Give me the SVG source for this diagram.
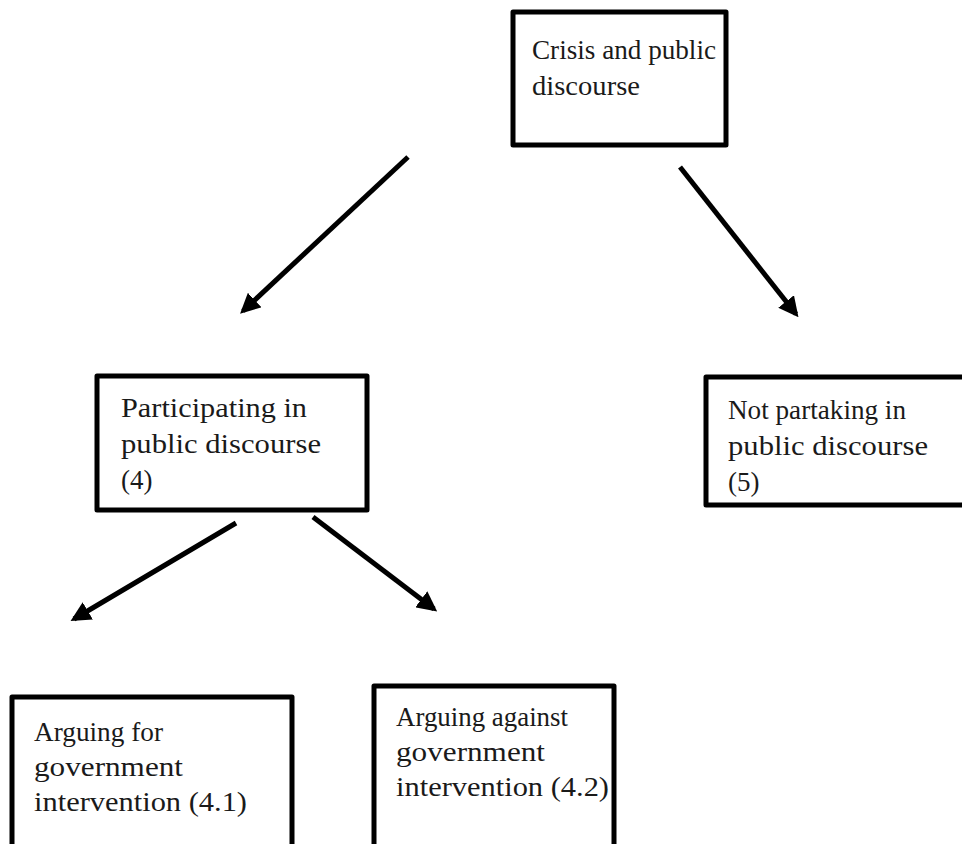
<svg xmlns="http://www.w3.org/2000/svg" width="962" height="844" viewBox="0 0 962 844">
<defs>
<style>
.box{fill:#fff;stroke:#000;stroke-width:5;stroke-linejoin:round}
.t{font-family:"Liberation Serif","DejaVu Serif",serif;font-size:27px;fill:#1a1a1a}
.c{stroke:#000;stroke-width:5;fill:none;marker-end:url(#ah)}
</style>
<marker id="ah" viewBox="0 0 10 10" refX="8" refY="5" markerWidth="4" markerHeight="4" orient="auto" markerUnits="strokeWidth">
<path d="M0,0 L10,5 L0,10 Z" fill="#000"/>
</marker>
</defs>
<rect width="962" height="844" fill="#fff"/>
<g id="connectors">
<line class="c" x1="408" y1="157" x2="243" y2="311"/>
<line class="c" x1="680" y1="167" x2="796" y2="314"/>
<line class="c" x1="236" y1="523" x2="74" y2="619"/>
<line class="c" x1="313" y1="517" x2="434" y2="609"/>
</g>
<g id="n1">
<rect class="box" x="513" y="12" width="213" height="133"/>
<text class="t" x="532" y="59" textLength="184" lengthAdjust="spacingAndGlyphs">Crisis and public</text>
<text class="t" x="532" y="95" textLength="108" lengthAdjust="spacingAndGlyphs">discourse</text>
</g>
<g id="n2">
<rect class="box" x="97" y="376" width="270" height="134"/>
<text class="t" x="121" y="417" textLength="186" lengthAdjust="spacingAndGlyphs">Participating in</text>
<text class="t" x="121" y="453" textLength="200" lengthAdjust="spacingAndGlyphs">public discourse</text>
<text class="t" x="121" y="489">(4)</text>
</g>
<g id="n3">
<rect class="box" x="706" y="377" width="270" height="128"/>
<text class="t" x="728" y="419" textLength="178" lengthAdjust="spacingAndGlyphs">Not partaking in</text>
<text class="t" x="728" y="455" textLength="200" lengthAdjust="spacingAndGlyphs">public discourse</text>
<text class="t" x="728" y="491">(5)</text>
</g>
<g id="n4">
<rect class="box" x="12" y="697" width="280" height="170"/>
<text class="t" x="34" y="741" textLength="129" lengthAdjust="spacingAndGlyphs">Arguing for</text>
<text class="t" x="34" y="776" textLength="149" lengthAdjust="spacingAndGlyphs">government</text>
<text class="t" x="34" y="811" textLength="213" lengthAdjust="spacingAndGlyphs">intervention (4.1)</text>
</g>
<g id="n5">
<rect class="box" x="374" y="686" width="240" height="180"/>
<text class="t" x="396" y="726" textLength="172" lengthAdjust="spacingAndGlyphs">Arguing against</text>
<text class="t" x="396" y="761" textLength="149" lengthAdjust="spacingAndGlyphs">government</text>
<text class="t" x="396" y="796" textLength="213" lengthAdjust="spacingAndGlyphs">intervention (4.2)</text>
</g>
</svg>
